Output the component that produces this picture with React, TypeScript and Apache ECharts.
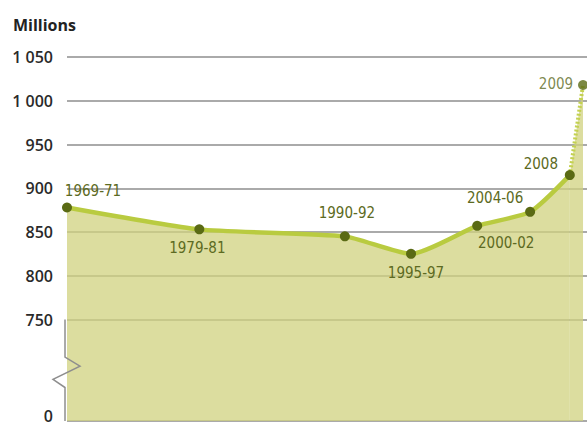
import React, { useEffect, useRef } from "react";
import * as echarts from "echarts";

// Period labels and their mid-years (x positions on a time scale)
const PERIODS = ["1969-71", "1979-81", "1990-92", "1995-97", "2000-02", "2004-06", "2008", "2009"];
const MID_YEARS = [1970, 1980, 1991, 1996, 2001, 2005, 2008, 2009];
// Undernourished people, millions
const VALUES = [878, 853, 845, 825, 857, 873, 915, 1018];
// Y tick labels (above the axis break) and the broken-axis floor shown as "0"
const Y_TICKS = [750, 800, 850, 900, 950, 1000, 1050];
const Y_FLOOR = 634; // axis bottom, labelled "0" (axis break)
const Y_FLOOR_LABEL = "0";
const Y_MAX = 1050;
const X_MIN = 1970;
const X_MAX = 2009.3;

// label offsets (px) relative to each point's centre
const LABEL_OFFSETS: [number, number][] = [
  [26, -17],
  [-2, 19],
  [2, -23],
  [5, 19],
  [29, 17],
  [-35, -14],
  [-29, -11],
  [-27, -1],
];

const SOLID_COUNT = 7; // first 7 points joined by the solid line; last segment dotted

export default function App() {
  const ref = useRef<HTMLDivElement>(null);

  useEffect(() => {
    document.body.style.margin = "0";
    if (!ref.current) return;
    const chart = echarts.init(ref.current, undefined, { renderer: "svg" });

    const labelColor = "#5c6a22";
    const pointColor = "#5a6a14";
    const lineColor = "#b9cb40";
    const areaColor = "rgba(208,210,127,0.75)";
    const axisFont = {
      color: "#2a2a2a",
      fontFamily: "Open Sans",
      fontWeight: 600,
      fontSize: 16,
    };

    const mkItem = (i: number) => ({
      value: [MID_YEARS[i], VALUES[i]],
      name: PERIODS[i],
      label: {
        show: true,
        position: "inside",
        offset: LABEL_OFFSETS[i],
        formatter: PERIODS[i],
        color: labelColor,
        fontFamily: "DejaVu Sans Condensed",
        fontSize: 15,
      },
    });

    const solidData = VALUES.slice(0, SOLID_COUNT).map((_, i) => mkItem(i));
    const dottedData = [SOLID_COUNT - 1, SOLID_COUNT].map((i) => ({
      value: [MID_YEARS[i], VALUES[i]],
    }));
    const lastItem = mkItem(SOLID_COUNT);

    chart.setOption({
      animation: false,
      title: {
        text: "Millions",
        left: 8,
        top: 12,
        textStyle: {
          fontFamily: "Open Sans",
          fontWeight: "bold",
          fontSize: 16,
          color: "#222",
        },
      },
      grid: { left: 67, right: 0, top: 57, bottom: 6, containLabel: false },
      xAxis: {
        type: "value",
        min: X_MIN,
        max: X_MAX,
        show: false,
      },
      yAxis: {
        type: "value",
        min: Y_FLOOR,
        max: Y_MAX,
        axisLine: { show: false },
        axisTick: { show: false, customValues: [Y_FLOOR, ...Y_TICKS] },
        axisLabel: {
          customValues: Y_TICKS,
          margin: 14,
          ...axisFont,
          formatter: (v: number) =>
            v >= 1000 ? `${Math.floor(v / 1000)} ${String(v % 1000).padStart(3, "0")}` : String(v),
        },
        splitLine: { show: true, lineStyle: { color: "#8e8e8e", width: 1.5 } },
      },
      series: [
        {
          type: "line",
          data: solidData,
          smooth: 0.2,
          symbol: "circle",
          symbolSize: 10,
          itemStyle: { color: pointColor },
          lineStyle: { color: lineColor, width: 4.5 },
          areaStyle: { color: areaColor, origin: "start", opacity: 1 },
          z: 3,
        },
        {
          type: "line",
          data: dottedData,
          symbol: "none",
          lineStyle: { color: "#c3d150", width: 4, type: [2, 2] },
          areaStyle: { color: areaColor, origin: "start", opacity: 1 },
          z: 2,
        },
        {
          type: "scatter",
          data: [lastItem],
          symbol: "circle",
          symbolSize: 10,
          itemStyle: { color: pointColor },
          z: 4,
        },
      ],
    });

    // broken-axis line with zigzag on the left edge, plus the "0" floor label
    const top = chart.convertToPixel({ gridIndex: 0 }, [X_MIN, Y_TICKS[0]]) as number[];
    const bot = chart.convertToPixel({ gridIndex: 0 }, [X_MIN, Y_FLOOR]) as number[];
    const x0 = top[0] - 2;
    const h = bot[1] - top[1];
    chart.setOption({
      graphic: [
        {
          type: "polyline",
          silent: true,
          z: 10,
          shape: {
            points: [
              [x0, top[1]],
              [x0, top[1] + h * 0.37],
              [x0 + 15, top[1] + h * 0.46],
              [x0 - 12, top[1] + h * 0.59],
              [x0, top[1] + h * 0.67],
              [x0, bot[1]],
            ],
          },
          style: { stroke: "#8e8e8e", lineWidth: 1.5, fill: "none" },
        },
        {
          type: "text",
          silent: true,
          x: top[0] - 14,
          y: bot[1] - 5,
          style: {
            text: Y_FLOOR_LABEL,
            align: "right",
            verticalAlign: "middle",
            fill: axisFont.color,
            fontFamily: axisFont.fontFamily,
            fontWeight: axisFont.fontWeight,
            fontSize: axisFont.fontSize,
          },
        },
      ],
    });

    return () => chart.dispose();
  }, []);

  return <div ref={ref} style={{ width: 587, height: 427 }} />;
}
